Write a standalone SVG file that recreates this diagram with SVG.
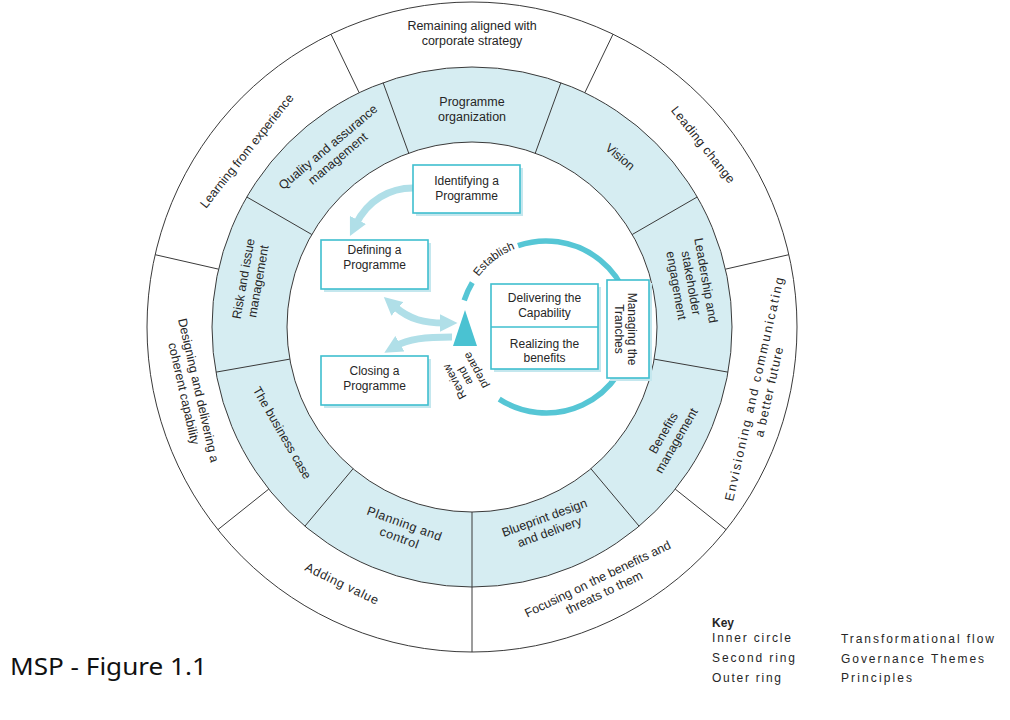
<svg xmlns="http://www.w3.org/2000/svg" width="1010" height="720" viewBox="0 0 1010 720">
<style>
  text { font-family: "Liberation Sans", Arial, sans-serif; fill: #262626; }
  text.title { font-family: "Noto Sans", "DejaVu Sans", sans-serif; font-size: 23px; fill: #111; }
  .ring { font-size: 12.5px; text-anchor: middle; }
  .box { font-size: 12px; text-anchor: middle; }
  .flow { font-size: 11.5px; text-anchor: middle; }
  .key { font-size: 12px; }
  .div { stroke: #3a3a3a; stroke-width: 1; fill: none; }
  .bx { fill: #ffffff; stroke: #3fbfcf; stroke-width: 1.6; }
  .sh { fill: #c4e7ee; }
  .la { fill: none; stroke: #b0dfe8; stroke-width: 7; }
  .cy { fill: none; stroke: #56c6d5; stroke-width: 5.5; }
</style>
<defs>
  <marker id="ah" markerUnits="userSpaceOnUse" markerWidth="18" markerHeight="18" viewBox="0 0 16 16" refX="4" refY="8" orient="auto-start-reverse">
    <path d="M0,0 L16,8 L0,16 z" fill="#b0dfe8"/>
  </marker>
  <path id="estPath" d="M 476.4,279.8 A 84 84 0 0 1 518.6,247.6"/>
</defs>
<rect x="0" y="0" width="1010" height="720" fill="#ffffff"/>

<!-- rings -->
<g id="rings">
  <circle cx="472" cy="327" r="325" fill="#ffffff" stroke="#3a3a3a" stroke-width="1"/>
  <circle cx="472" cy="327" r="260" fill="#d6edf2" stroke="#3a3a3a" stroke-width="1"/>
  <circle cx="472" cy="327" r="185" fill="#ffffff" stroke="#3a3a3a" stroke-width="1"/>
</g>

<g id="connectors">
  <!-- ring dividers -->
  <path class="div" d="M535.27,153.16 L560.92,82.68 M632.21,234.5 L697.17,197 M654.19,359.13 L728.06,372.15 M590.92,468.72 L639.12,526.18 M472,512 L472,652 M353.08,468.72 L304.88,526.18 M289.81,359.13 L215.94,372.15 M311.79,234.5 L246.83,197 M408.73,153.16 L383.08,82.68"/>
  <path class="div" d="M584.81,92.74 L613.02,34.18 M725.47,269.15 L788.84,254.69 M675.27,489.11 L726.09,529.64 M268.73,489.11 L217.91,529.64 M218.53,269.15 L155.16,254.69 M359.19,92.74 L330.98,34.18"/>
  <!-- light flow arrows -->
  <path class="la" d="M 413,188 C 390,188 368,200 356,224" marker-end="url(#ah)"/>
  <path class="la" d="M 394,306 C 410,320 425,323 444,323" marker-start="url(#ah)" marker-end="url(#ah)"/>
  <path class="la" d="M 452,337 C 425,337 408,339 396,346" marker-end="url(#ah)"/>
  <!-- cycle arc -->
  <path class="cy" d="M 518.0,245.7 A 86 86 0 1 1 499.2,399.1"/>
  <path class="cy" d="M 464.2,300.4 A 86 86 0 0 1 472.3,282.7"/>
  <polygon points="465,310 453,346 477,346" fill="#4ac2d2"/>
</g>

<!-- second ring: governance themes -->
<g id="programme-organization"><text class="ring" x="472" y="106">Programme</text><text class="ring" x="472" y="121">organization</text></g>
<g id="vision" transform="translate(620,157) rotate(40)"><text class="ring" x="0" y="4">Vision</text></g>
<g id="leadership" transform="translate(691,283) rotate(80)"><text class="ring"><tspan x="0" y="-11">Leadership and</tspan><tspan x="0" y="4">stakeholder</tspan><tspan x="0" y="19">engagement</tspan></text></g>
<g id="benefits-management" transform="translate(670,437) rotate(-60)"><text class="ring"><tspan x="0" y="-3.5">Benefits</tspan><tspan x="0" y="11.5">management</tspan></text></g>
<g id="blueprint" transform="translate(547,525) rotate(-20)"><text class="ring"><tspan x="0" y="-3.5">Blueprint design</tspan><tspan x="0" y="11.5">and delivery</tspan></text></g>
<g id="planning" transform="translate(402,531) rotate(20)"><text class="ring" letter-spacing="0.5"><tspan x="0" y="-3.5">Planning and</tspan><tspan x="0" y="11.5">control</tspan></text></g>
<g id="business-case" transform="translate(282,433) rotate(60)"><text class="ring" x="0" y="4">The business case</text></g>
<g id="risk" transform="translate(251,280) rotate(-80)"><text class="ring"><tspan x="0" y="-3.5">Risk and issue</tspan><tspan x="0" y="11.5">management</tspan></text></g>
<g id="quality" transform="translate(333,153) rotate(-40)"><text class="ring"><tspan x="0" y="-3.5">Quality and assurance</tspan><tspan x="0" y="11.5">management</tspan></text></g>

<!-- outer ring: principles -->
<g id="remaining-aligned"><text class="ring" x="472" y="30">Remaining aligned with</text><text class="ring" x="472" y="45">corporate strategy</text></g>
<g id="leading-change" transform="translate(703,145) rotate(51.43)"><text class="ring" x="0" y="4" letter-spacing="0.4">Leading change</text></g>
<g id="envisioning" transform="translate(762,390) rotate(-77.14)"><text class="ring"><tspan x="0" y="-3.5" letter-spacing="1.9">Envisioning and communicating</tspan><tspan x="0" y="11.5" letter-spacing="1">a better future</tspan></text></g>
<g id="focusing" transform="translate(601,586) rotate(-25.71)"><text class="ring"><tspan x="0" y="-3.5">Focusing on the benefits and</tspan><tspan x="0" y="11.5">threats to them</tspan></text></g>
<g id="adding-value" transform="translate(342,584) rotate(25.71)"><text class="ring" x="0" y="4" letter-spacing="0.7">Adding value</text></g>
<g id="designing" transform="translate(191,392) rotate(77.14)"><text class="ring"><tspan x="0" y="-3.5">Designing and delivering a</tspan><tspan x="0" y="11.5">coherent capability</tspan></text></g>
<g id="learning" transform="translate(247,151) rotate(-51.43)"><text class="ring" x="0" y="4">Learning from experience</text></g>

<!-- inner circle: transformational flow -->
<g id="identifying">
  <rect class="sh" x="416" y="168" width="107" height="48"/>
  <rect class="bx" x="413" y="165" width="107" height="48"/>
  <text class="box" x="466.5" y="185">Identifying a</text><text class="box" x="466.5" y="200">Programme</text>
</g>
<g id="defining">
  <rect class="sh" x="324" y="243" width="107" height="49"/>
  <rect class="bx" x="321" y="240" width="107" height="49"/>
  <text class="box" x="374.5" y="254">Defining a</text><text class="box" x="374.5" y="269">Programme</text>
</g>
<g id="closing">
  <rect class="sh" x="324" y="359" width="107" height="49"/>
  <rect class="bx" x="321" y="356" width="107" height="49"/>
  <text class="box" x="374.5" y="375">Closing a</text><text class="box" x="374.5" y="390">Programme</text>
</g>
<g id="delivering-realizing">
  <rect class="sh" x="494" y="287" width="107" height="85"/>
  <rect class="bx" x="491" y="284" width="107" height="85"/>
  <line x1="491" y1="327" x2="598" y2="327" stroke="#3fbfcf" stroke-width="1.6"/>
  <text class="box" x="544.5" y="302">Delivering the</text><text class="box" x="544.5" y="317">Capability</text>
  <text class="box" x="544.5" y="348">Realizing the</text><text class="box" x="544.5" y="362">benefits</text>
</g>
<g id="managing">
  <rect class="sh" x="610" y="283" width="42" height="98"/>
  <rect class="bx" x="607" y="280" width="42" height="98"/>
  <g transform="translate(628,329) rotate(90)"><text class="box"><tspan x="0" y="0">Managing the</tspan><tspan x="0" y="13">Tranches</tspan></text></g>
</g>
<g id="establish"><text class="flow"><textPath href="#estPath" startOffset="50%">Establish</textPath></text></g>
<g id="review-prepare" transform="translate(465,376) rotate(-118)"><text class="flow"><tspan x="0" y="-8">Review</tspan><tspan x="0" y="4">and</tspan><tspan x="0" y="16">prepare</tspan></text></g>

<!-- key -->
<g id="key">
  <text class="key" x="712" y="627" font-weight="bold">Key</text>
  <text class="key" x="712" y="642" textLength="79" lengthAdjust="spacing">Inner circle</text>
  <text class="key" x="712" y="662" textLength="83" lengthAdjust="spacing">Second ring</text>
  <text class="key" x="712" y="682" textLength="69" lengthAdjust="spacing">Outer ring</text>
  <text class="key" x="841" y="643" textLength="153" lengthAdjust="spacing">Transformational flow</text>
  <text class="key" x="841" y="663" textLength="143" lengthAdjust="spacing">Governance Themes</text>
  <text class="key" x="841" y="682" textLength="71" lengthAdjust="spacing">Principles</text>
</g>
<g id="title"><text class="title" x="10" y="675" textLength="197" lengthAdjust="spacingAndGlyphs">MSP - Figure 1.1</text></g>
</svg>
